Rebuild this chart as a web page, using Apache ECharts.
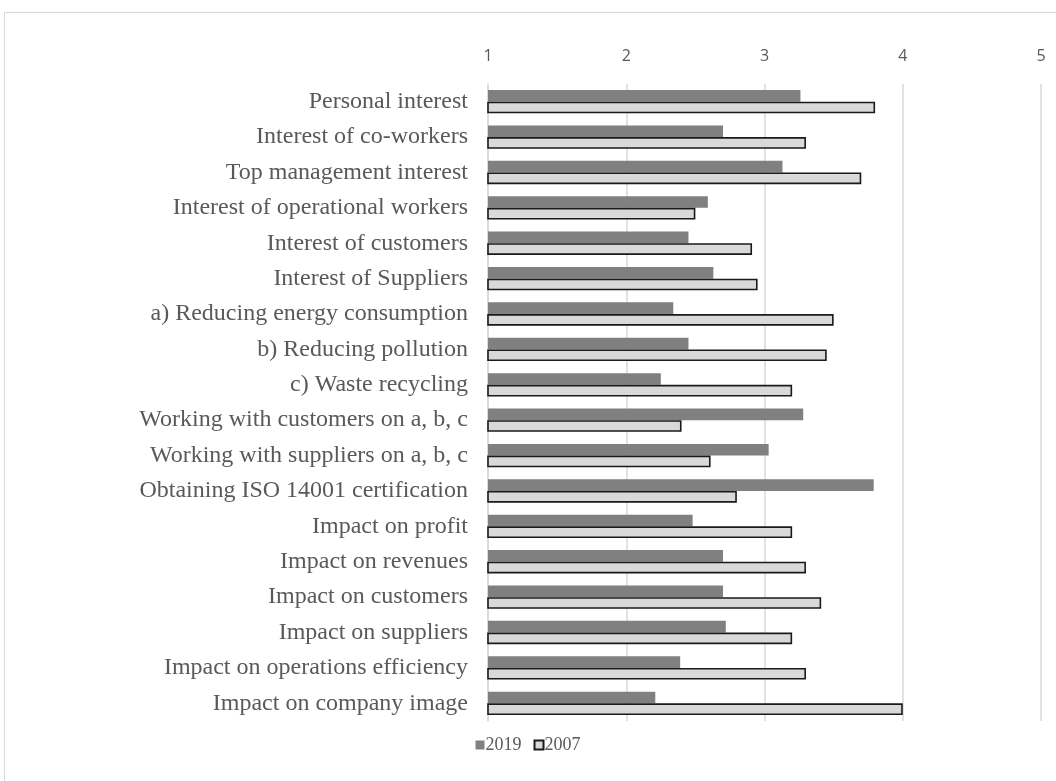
<!DOCTYPE html>
<html>
<head>
<meta charset="utf-8">
<script src="https://cdn.jsdelivr.net/npm/echarts@6/dist/echarts.min.js"></script>
<style>
  html, body { margin: 0; padding: 0; background: #fff; }
  #frame { position: absolute; left: 4px; top: 12px; width: 1080px; height: 800px; border: 1px solid #d9d9d9; box-sizing: border-box; }
  #chart { position: absolute; left: 0; top: 0; width: 1056px; height: 781px; }
</style>
</head>
<body>
<div id="frame"></div>
<div id="chart"></div>
<script>
// Survey items, listed top to bottom
const categories = [
  'Personal interest',
  'Interest of co-workers',
  'Top management interest',
  'Interest of operational workers',
  'Interest of customers',
  'Interest of Suppliers',
  'a) Reducing energy consumption',
  'b) Reducing pollution',
  'c) Waste recycling',
  'Working with customers on a, b, c',
  'Working with suppliers on a, b, c',
  'Obtaining ISO 14001 certification',
  'Impact on profit',
  'Impact on revenues',
  'Impact on customers',
  'Impact on suppliers',
  'Impact on operations efficiency',
  'Impact on company image'
];

// Mean scores (1-5 scale)
const values2019 = [3.26, 2.70, 3.13, 2.59, 2.45, 2.63, 2.34, 2.45, 2.25, 3.28, 3.03, 3.79, 2.48, 2.70, 2.70, 2.72, 2.39, 2.21];
const values2007 = [3.80, 3.30, 3.70, 2.50, 2.91, 2.95, 3.50, 3.45, 3.20, 2.40, 2.61, 2.80, 3.20, 3.30, 3.41, 3.20, 3.30, 4.00];

const scaleTicks = [1, 2, 3, 4, 5];

const chart = echarts.init(document.getElementById('chart'));
chart.setOption({
  animation: false,
  backgroundColor: 'transparent',
  grid: { left: 488, right: 15, top: 84, height: 637, containLabel: false },
  legend: {
    bottom: 22,
    left: 'center',
    itemWidth: 9,
    itemHeight: 9,
    itemGap: 12,
    textStyle: { fontFamily: 'Liberation Serif', fontSize: 18, color: '#595959', padding: [0, 0, 0, -4] },
    data: [
      { name: '2019', icon: 'rect' },
      { name: '2007', icon: 'rect' }
    ]
  },
  xAxis: {
    type: 'value',
    position: 'top',
    min: scaleTicks[0],
    max: scaleTicks[scaleTicks.length - 1],
    interval: 1,
    axisLine: { show: false },
    axisTick: { show: false },
    axisLabel: { color: '#595959', fontFamily: 'Open Sans', fontSize: 16, margin: 20 },
    splitLine: { show: true, lineStyle: { color: '#d9d9d9', width: 1.5 } }
  },
  yAxis: {
    type: 'category',
    data: categories,
    inverse: true,
    axisLine: { show: true, lineStyle: { color: '#d9d9d9', width: 1.5 } },
    axisTick: { show: false },
    axisLabel: { color: '#595959', fontFamily: 'Liberation Serif', fontSize: 24, margin: 20 }
  },
  series: [
    {
      name: '2019',
      type: 'bar',
      data: values2019,
      barGap: '0%',
      barCategoryGap: '34%',
      itemStyle: { color: '#808080' }
    },
    {
      name: '2007',
      type: 'bar',
      data: values2007,
      itemStyle: { color: '#d9d9d9', borderColor: '#1a1a1a', borderWidth: 1.6 }
    }
  ]
});
</script>
</body>
</html>
